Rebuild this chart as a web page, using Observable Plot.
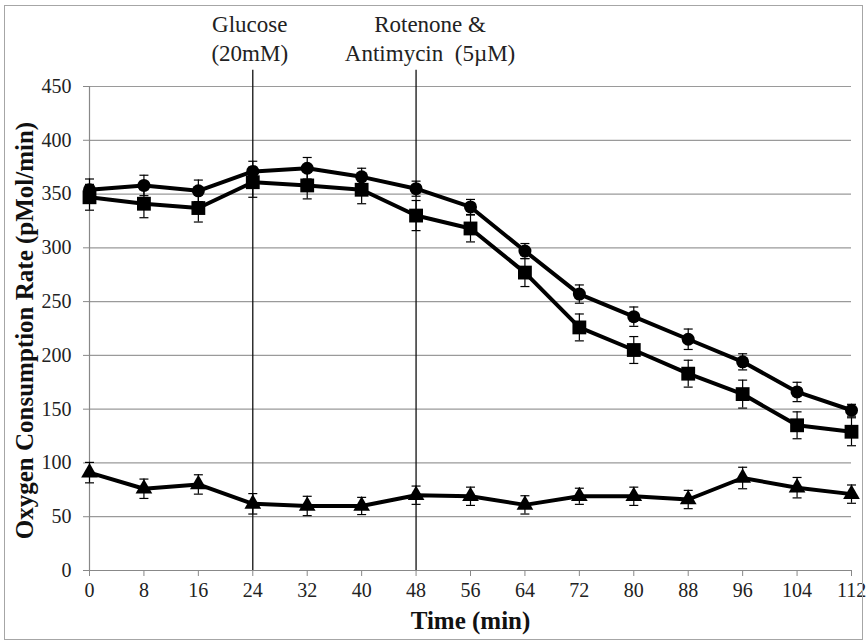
<!DOCTYPE html>
<html>
<head>
<meta charset="utf-8">
<script src="https://cdn.jsdelivr.net/npm/d3@7"></script>
<script src="https://cdn.jsdelivr.net/npm/@observablehq/plot@0.6"></script>
<style>
  html, body { margin: 0; padding: 0; background: #fff; }
  #wrap { position: relative; width: 866px; height: 644px; }
  #border { position: absolute; left: 4px; top: 5px; width: 857px; height: 633px; border: 1px solid #a6a6a6; pointer-events: none; }
</style>
</head>
<body>
<div id="wrap"><div id="border"></div></div>
<script>
// ---- data ----
const times = [0, 8, 16, 24, 32, 40, 48, 56, 64, 72, 80, 88, 96, 104, 112];
const xTicks = [0, 8, 16, 24, 32, 40, 48, 56, 64, 72, 80, 88, 96, 104, 112];
const yTicks = [0, 50, 100, 150, 200, 250, 300, 350, 400, 450];

const circleMean = [354, 358, 353, 371, 374, 366, 355, 338, 297, 257, 236, 215, 194, 166, 149];
const circleErr  = [10, 9.5, 10, 9.5, 10, 8, 7, 7, 7, 8.5, 9, 9.5, 7.5, 9, 5.5];

const squareMean = [347, 341, 337, 361, 358, 354, 330, 318, 277, 226, 205, 183, 164, 135, 129];
const squareErr  = [12, 13, 13, 14, 12.5, 13, 14, 12.5, 13, 12.5, 12.5, 12.5, 13, 12.5, 13];

const triangleMean = [91, 76, 80, 62, 60, 60, 70, 69, 61, 69, 69, 66, 86, 77, 71];
const triangleErr  = [9.5, 9, 9, 9.5, 9, 8, 8.5, 8.5, 8.5, 7.5, 8.5, 8.5, 10, 9.5, 8.5];

const eventTimes = [24, 48];
const eventLabels = ["Glucose\n(20mM)", "Rotenone &\nAntimycin  (5\u00b5M)"];
const eventLineTop = 465; // value where the event lines stop (above the axis top)

const yTitle = "Oxygen Consumption Rate (pMol/min)";
const xTitle = "Time (min)";

// ---- build table ----
function rowsOf(name, means, errs) {
  return times.map((t, i) => ({ s: name, t, v: means[i], e: errs[i] }));
}
const circles = rowsOf("circle", circleMean, circleErr);
const squares = rowsOf("square", squareMean, squareErr);
const triangles = rowsOf("triangle", triangleMean, triangleErr);
const all = [...circles, ...squares, ...triangles];
const events = eventTimes.map((t, i) => ({ t, label: eventLabels[i] }));

const cap = { draw(ctx) { ctx.moveTo(-4.5, 0); ctx.lineTo(4.5, 0); } };

const font = "'Liberation Serif', 'Times New Roman', serif";
const annoStyle = { x: "t", text: "label", frameAnchor: "top", lineAnchor: "bottom", dy: -26, lineHeight: 1.22, fontSize: 23, fill: "#222" };

const chart = Plot.plot({
  width: 866,
  height: 644,
  marginLeft: 89,
  marginRight: 15,
  marginTop: 86,
  marginBottom: 74,
  style: { fontFamily: font, fontSize: "20px", color: "#222", background: "transparent", overflow: "visible" },
  x: { domain: [0, 112], ticks: xTicks },
  y: { domain: [0, 450], ticks: yTicks },
  marks: [
    Plot.gridY(yTicks.filter(d => d > 0), { stroke: "#9a9a9a", strokeOpacity: 1, strokeWidth: 1.2 }),
    Plot.axisX({ ticks: xTicks, tickSize: 6, tickPadding: 6, stroke: "#888", label: null, fill: "#222" }),
    Plot.axisY({ ticks: yTicks, tickSize: 6, tickPadding: 12, stroke: "#888", label: null, fill: "#222" }),
    Plot.ruleY([0], { stroke: "#888", strokeWidth: 1.2 }),
    Plot.ruleX([0], { stroke: "#888", strokeWidth: 1.2 }),
    Plot.ruleX(events, { x: "t", y1: 0, y2: eventLineTop, stroke: "#111", strokeWidth: 1.3 }),
    Plot.text(events.slice(0, 1), { ...annoStyle, dx: -3 }),
    Plot.text(events.slice(1), { ...annoStyle, dx: 14 }),
    Plot.line(all, { x: "t", y: "v", z: "s", stroke: "#000", strokeWidth: 4 }),
    Plot.ruleX(all, { x: "t", y1: d => d.v - d.e, y2: d => d.v + d.e, stroke: "#000", strokeWidth: 1.2 }),
    Plot.dot(all, { x: "t", y: d => d.v + d.e, symbol: cap, stroke: "#000", strokeWidth: 1.2, fill: "none" }),
    Plot.dot(all, { x: "t", y: d => d.v - d.e, symbol: cap, stroke: "#000", strokeWidth: 1.2, fill: "none" }),
    Plot.dot(circles, { x: "t", y: "v", symbol: "circle", r: 6.5, fill: "#000", stroke: "none" }),
    Plot.dot(squares, { x: "t", y: "v", symbol: "square", r: 7.8, fill: "#000", stroke: "none" }),
    Plot.dot(triangles, { x: "t", y: "v", symbol: "triangle", r: 6.2, fill: "#000", stroke: "none" }),
    Plot.text([yTitle], { frameAnchor: "left", textAnchor: "middle", dx: -65, dy: 2, rotate: -90, fontWeight: "bold", fontSize: 25, fill: "#111" }),
    Plot.text([xTitle], { frameAnchor: "bottom", dy: 58, fontWeight: "bold", fontSize: 25, fill: "#111" })
  ]
});
document.getElementById("wrap").prepend(chart);
</script>
</body>
</html>
